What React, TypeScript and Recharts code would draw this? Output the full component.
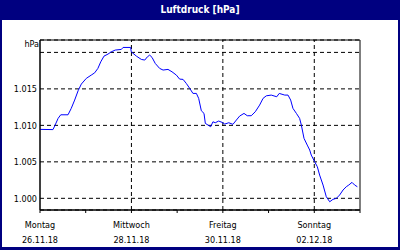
import { LineChart, Line, XAxis, YAxis, CartesianGrid, ReferenceLine, ReferenceArea } from "recharts";

// hours since Montag 26.11.18 00:00
const HOURS = [
  0, 6.8, 7.7, 9.5, 10.9, 14.7, 16.4, 18.2, 20, 21.7, 24.3, 26.9, 28.7, 30.4, 31.9, 33.6, 35.7, 37.4, 39.5, 42.7,
  43.6, 47.6, 47.9, 50.6, 53.2, 55, 56.4, 57.6, 58.8, 60.5, 62.8, 64.6, 67.2, 69.3, 71.6, 73.3, 75.1, 76.8, 78.6,
  80.3, 82.1, 83.3, 84.7, 86.1, 86.8, 88.2, 89.6, 90.8, 92, 93.8, 95.6, 97, 99.1, 101.3, 103.1, 104.8, 107.1, 108.8,
  110.9, 113, 115.3, 117.1, 118.8, 121.4, 124.3, 125.6, 128.5, 130.2, 131.6, 132.8, 134.6, 136.3, 137.2, 138.6,
  140.3, 141.6, 142.4, 144.2, 145.6, 146.8, 148.6, 150.3, 152.1, 153.8, 155.6, 157.3, 159.1, 160.8, 162.1, 163.8,
  165.2, 166.6,
];

const PRESSURE = [
  1009.45, 1009.42, 1009.9, 1010.96, 1011.45, 1011.45, 1012.33, 1013.47, 1014.74, 1015.66, 1016.44, 1016.89, 1017.2,
  1017.81, 1018.71, 1019.49, 1019.77, 1020.08, 1020.32, 1020.41, 1020.68, 1020.68, 1020.08, 1019.49, 1019.04,
  1018.95, 1019.4, 1019.63, 1019.32, 1018.49, 1017.81, 1017.58, 1017.67, 1017.34, 1016.89, 1016.34, 1016.3,
  1015.75, 1015.07, 1014.38, 1014.38, 1013.7, 1012.0, 1011.64, 1010.27, 1010.04, 1009.81, 1010.49, 1010.36,
  1010.59, 1010.41, 1010.18, 1010.36, 1010.14, 1010.73, 1011.27, 1011.64, 1011.32, 1011.32, 1011.86, 1012.78,
  1013.7, 1014.05, 1014.15, 1013.92, 1014.38, 1014.15, 1014.15, 1013.47, 1012.33, 1011.64, 1010.96, 1010.04,
  1008.22, 1007.3, 1006.62, 1005.93, 1005.01, 1004.33, 1003.19, 1001.82, 1000.22, 999.53, 999.86, 1000, 1000.45,
  1001.14, 1001.59, 1001.82, 1002.19, 1001.82, 1001.59,
];

const X_TICKS = [0, 24, 48, 72, 96, 120, 144, 168];
const X_GRID = [48, 96, 144];
const DAY_NAMES: Record<number, string> = { 0: "Montag", 48: "Mittwoch", 96: "Freitag", 144: "Sonntag" };
const DAY_DATES: Record<number, string> = { 0: "26.11.18", 48: "28.11.18", 96: "30.11.18", 144: "02.12.18" };
const Y_TICKS = [1000, 1005, 1010, 1015, 1020];
const Y_MIN = 998.4;
const Y_MAX = 1021.7;

const NAVY = "#000080";
const FONT = "'DejaVu Sans Condensed', 'DejaVu Sans', sans-serif";

const data = HOURS.map((h, i) => ({ h, p: PRESSURE[i] }));

function fmtHpa(v: number) {
  if (v === 1020) return "";
  const n = Math.round(v);
  return `${Math.floor(n / 1000)}.${String(n % 1000).padStart(3, "0")}`;
}

function DayTick(props: any) {
  const { x, y, payload } = props;
  const name = DAY_NAMES[payload.value];
  if (!name) return null;
  return (
    <g>
      <text x={x} y={y + 13} textAnchor="middle" fontSize={9} fontFamily={FONT} fill="#000">
        {name}
      </text>
      <text x={x} y={y + 28} textAnchor="middle" fontSize={9} fontFamily={FONT} fill="#000">
        {DAY_DATES[payload.value]}
      </text>
    </g>
  );
}

export default function App() {
  return (
    <div
      style={{
        position: "absolute",
        left: 0,
        top: 0,
        width: 400,
        height: 250,
        boxSizing: "border-box",
        background: "#fff",
        borderLeft: `2px solid ${NAVY}`,
        borderRight: `2px solid ${NAVY}`,
        borderBottom: `3px solid ${NAVY}`,
        fontFamily: FONT,
      }}
    >
      <div
        style={{
          position: "absolute",
          left: -2,
          top: 0,
          width: 400,
          height: 20,
          background: NAVY,
          color: "#fff",
          fontWeight: "bold",
          fontSize: 10,
          lineHeight: "19px",
          textAlign: "center",
        }}
      >
        Luftdruck [hPa]
      </div>
      <div style={{ position: "absolute", left: 20, top: 39, width: 17, textAlign: "right", fontSize: 9, color: "#000" }}>
        hPa
      </div>
      <div style={{ position: "absolute", left: -2, top: 0 }}>
        <LineChart width={400} height={250} data={data} margin={{ top: 40, right: 40, bottom: 0, left: 0 }}>
          <CartesianGrid vertical={false} stroke="#000" strokeDasharray="4 3" />
          {X_GRID.map((g) => (
            <ReferenceLine key={g} x={g} stroke="#000" strokeDasharray="4 3" />
          ))}
          <XAxis
            dataKey="h"
            type="number"
            domain={[0, 168]}
            ticks={X_TICKS}
            interval={0}
            height={40}
            tickSize={3}
            tickMargin={2}
            stroke="#000"
            tickLine={{ stroke: "#000" }}
            tick={<DayTick />}
          />
          <YAxis
            type="number"
            domain={[Y_MIN, Y_MAX]}
            ticks={Y_TICKS}
            interval={0}
            width={40}
            tickSize={0}
            tickMargin={3}
            axisLine={{ stroke: "#000" }}
            tickLine={false}
            tickFormatter={fmtHpa}
            tick={{ fontSize: 9, fontFamily: FONT, fill: "#000" }}
            allowDataOverflow
          />
          <ReferenceArea x1={0} x2={168} y1={Y_MIN} y2={Y_MAX} fill="none" stroke="#000" strokeOpacity={1} />
          <Line
            type="linear"
            dataKey="p"
            stroke="#0000ff"
            strokeWidth={1}
            dot={false}
            isAnimationActive={false}
          />
        </LineChart>
      </div>
    </div>
  );
}
